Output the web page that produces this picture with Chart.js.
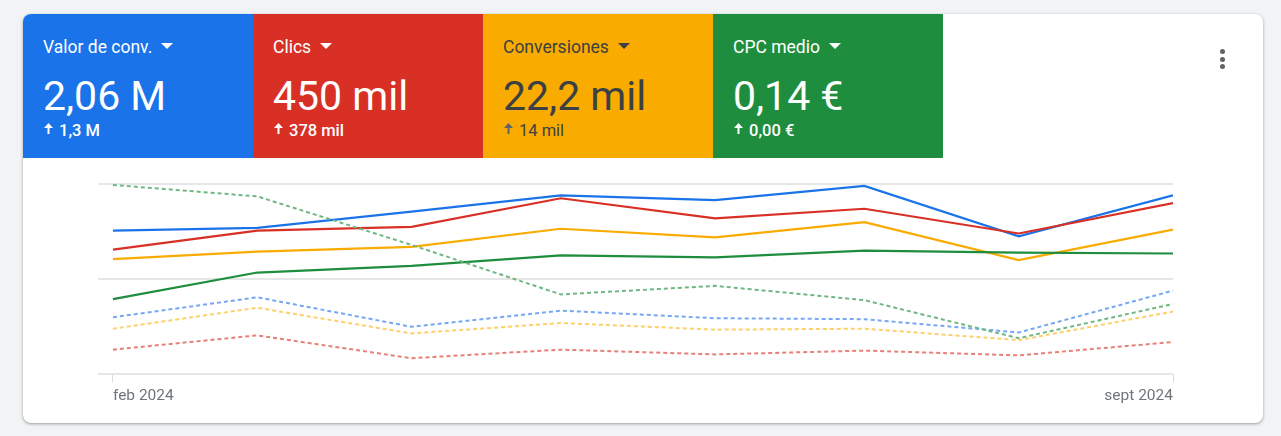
<!DOCTYPE html>
<html>
<head>
<meta charset="utf-8">
<script src="https://cdn.jsdelivr.net/npm/chart.js@4.4.1/dist/chart.umd.min.js"></script>
<style>
  html, body { margin:0; padding:0; background:#f1f3f4; width:1281px; height:436px; overflow:hidden; font-family: Roboto, "Noto Sans", Arial, sans-serif; }
  #card { position:absolute; left:23px; top:14px; width:1240px; height:409px; background:#fff; border-radius:8px; overflow:hidden;
          box-shadow: 0 1px 2px rgba(60,64,67,.3), 0 1px 3px 1px rgba(60,64,67,.15); }
  .tile { position:absolute; top:0; width:230px; height:144px; box-sizing:border-box; padding-left:20px; }
  .t-title { position:absolute; left:20px; top:23px; font-size:17.5px; line-height:20px; white-space:nowrap; }
  .t-title .caret { display:inline-block; width:0; height:0; border-left:6px solid transparent; border-right:6px solid transparent; border-top:6px solid currentColor; margin-left:9px; vertical-align:middle; position:relative; top:-2px; }
  .t-value { position:absolute; left:20px; top:58px; font-size:41px; line-height:48px; white-space:nowrap; }
  .t-sub { position:absolute; left:36px; top:107px; font-size:16.5px; line-height:20px; font-weight:500; white-space:nowrap; }
  .t-sub svg { position:absolute; left:-15px; top:2px; }
  #menu { position:absolute; left:1197px; top:35px; width:6px; }
  #menu i { display:block; width:5px; height:5px; border-radius:50%; background:#5f6368; margin-bottom:2.5px; }
  #chartWrap { position:absolute; left:0; top:144px; width:1240px; height:265px; }
</style>
</head>
<body>
<div id="card">
  <div class="tile" style="left:0;background:#1a73e8;color:#fff">
    <div class="t-title">Valor de conv.<span class="caret"></span></div>
    <div class="t-value">2,06 M</div>
    <div class="t-sub"><svg width="9" height="11" viewBox="0 0 9 11"><path d="M4.5 0 L9 5 L5.5 5 L5.5 11 L3.5 11 L3.5 5 L0 5 Z" fill="currentColor"/></svg>1,3 M</div>
  </div>
  <div class="tile" style="left:230px;background:#d93025;color:#fff">
    <div class="t-title">Clics<span class="caret"></span></div>
    <div class="t-value">450 mil</div>
    <div class="t-sub"><svg width="9" height="11" viewBox="0 0 9 11"><path d="M4.5 0 L9 5 L5.5 5 L5.5 11 L3.5 11 L3.5 5 L0 5 Z" fill="currentColor"/></svg>378 mil</div>
  </div>
  <div class="tile" style="left:460px;background:#f9ab00;color:#3c4043">
    <div class="t-title">Conversiones<span class="caret"></span></div>
    <div class="t-value">22,2 mil</div>
    <div class="t-sub" style="font-weight:400"><svg width="9" height="11" viewBox="0 0 9 11"><path d="M4.5 0 L9 5 L5.5 5 L5.5 11 L3.5 11 L3.5 5 L0 5 Z" fill="#5f6368"/></svg>14 mil</div>
  </div>
  <div class="tile" style="left:690px;background:#1e8e3e;color:#fff">
    <div class="t-title">CPC medio<span class="caret"></span></div>
    <div class="t-value">0,14 €</div>
    <div class="t-sub"><svg width="9" height="11" viewBox="0 0 9 11"><path d="M4.5 0 L9 5 L5.5 5 L5.5 11 L3.5 11 L3.5 5 L0 5 Z" fill="currentColor"/></svg>0,00 €</div>
  </div>
  <div id="menu"><i></i><i></i><i></i></div>
  <div id="chartWrap"><canvas id="c"></canvas></div>
</div>
<script>
// Months (day offsets from 1 Feb 2024)
const months = ["feb 2024","mar 2024","abr 2024","may 2024","jun 2024","jul 2024","ago 2024","sept 2024"];
const dayOffsets = [0, 29, 60, 90, 121, 151, 182, 213];
const tickLabels = ["feb 2024", "sept 2024"];

// Normalised series values (each metric on its own 0-200 relative scale)
const valorConv      = [151, 154, 171, 188, 183, 198, 145, 188];
const clics          = [131, 151, 155, 185, 164, 174, 148, 180];
const conversiones   = [121, 129, 134, 153, 144, 160, 120, 152];
const cpcMedio       = [79, 107, 114, 125, 123, 130, 128, 127];
const valorConvPrev  = [60, 81, 50, 67, 59, 58, 44, 88];
const clicsPrev      = [26, 41, 17, 26, 21, 25, 20, 34];
const conversionesPrev = [48, 70, 43, 54, 47, 48, 36, 66];
const cpcMedioPrev   = [199, 187, 136, 84, 93, 78, 38, 74];

function pts(arr){ return arr.map((v,i)=>({x:dayOffsets[i], y:v})); }
function ds(label, data, color, dashed){
  return { label, data: pts(data), borderColor: color, backgroundColor: color,
           borderWidth: dashed ? 2 : 2.2, pointRadius: 0, tension: 0, fill:false,
           borderDash: dashed ? [4,3] : [], borderCapStyle:'butt' };
}

new Chart(document.getElementById('c'), {
  type: 'line',
  data: { datasets: [
    ds('CPC medio (anterior)', cpcMedioPrev, '#6fb884', true),
    ds('Valor de conv. (anterior)', valorConvPrev, '#76a7f5', true),
    ds('Conversiones (anterior)', conversionesPrev, '#fdd06a', true),
    ds('Clics (anterior)', clicsPrev, '#e68078', true),
    ds('CPC medio', cpcMedio, '#1e8e3e', false),
    ds('Conversiones', conversiones, '#f9ab00', false),
    ds('Clics', clics, '#d93025', false),
    ds('Valor de conv.', valorConv, '#1a73e8', false)
  ]},
  options: {
    responsive: true, maintainAspectRatio: false, animation: false,
    devicePixelRatio: 1,
    layout: { padding: { left: 75, right: 90, top: 26, bottom: 14 } },
    plugins: { legend: { display:false }, tooltip: { enabled:false } },
    scales: {
      x: {
        type: 'linear', min: -3, max: 213,
        afterBuildTicks: (s) => { s.ticks = [{value:0},{value:213}]; },
        ticks: { autoSkip:false, maxRotation:0, align:'inner', padding:4,
                 color:'#70757a', font:{ family:'Roboto', size:15.5 },
                 callback: (v) => v === 0 ? tickLabels[0] : (v === 213 ? tickLabels[1] : '') },
        grid: { drawOnChartArea:false, drawTicks:true, tickLength:8, color:'#dadce0', lineWidth:1 },
        border: { display:false }
      },
      y: {
        min: 0, max: 200,
        afterBuildTicks: (s) => { s.ticks = [{value:0},{value:100},{value:200}]; },
        afterFit: (s) => { s.width = 0; },
        ticks: { display:false },
        grid: { drawTicks:false, color:'#e6e6e6', lineWidth:2 },
        border: { display:false }
      }
    }
  }
});
</script>
</body>
</html>
